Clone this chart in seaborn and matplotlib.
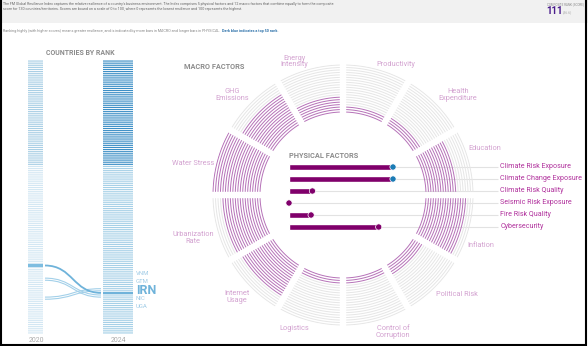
import numpy as np
import pandas as pd
import matplotlib.pyplot as plt
import seaborn as sns
from matplotlib.path import Path
from matplotlib.patches import PathPatch, Rectangle

W, H = 588, 346

# ---------------- data ----------------
macro_factors = ['Productivity', 'Health\nExpenditure', 'Education', 'Inflation', 'Political Risk',
                 'Control of\nCorruption', 'Logistics', 'Internet\nUsage', 'Urbanization\nRate',
                 'Water Stress', 'GHG\nEmissions', 'Energy\nIntensity']
macro_scores = [15, 20, 65, 85, 25, 15, 15, 75, 80, 100, 75, 35]

physical_factors = ['Climate Risk Exposure', 'Climate Change Exposure', 'Climate Risk Quality',
                    'Seismic Risk Exposure', 'Fire Risk Quality', 'Cybersecurity']
physical_scores = [80, 80, 18, 0, 17, 69]
physical_top50 = [True, True, False, False, False, False]

n_countries = 130
top_n = 50
years = ['2020', '2024']
hl_countries = ['VNM', 'GTM', 'IRN', 'NIC', 'UGA']
hl_rank_2020 = [113, 114, 98, 104, 105]
hl_rank_2024 = [109, 110, 111, 112, 113]
focus = 'IRN'
composite_rank = 111
composite_score = 36.6

# ---------------- style ----------------
PURPLE = '#80006b'
MACRO_ON = '#b672b8'
MACRO_OFF = '#e6e6e6'
MACRO_LBL = '#d3a2d0'
PHYS_LBL = '#b0309c'
DOT_BLUE = '#1b7bb5'
GREY_TXT = '#8c8c8c'

# label placement around the ring (angle nudge in degrees, radius in px)
label_nudge = [-7, -4, 3, -5, 4, 5, -5, -1, 1, 3, 3, 5]
label_rad = [141, 152, 149, 147, 151, 146, 142, 147, 156, 153, 149, 142]

sns.set_theme(style='white')
plt.rcParams['font.family'] = ['Roboto', 'DejaVu Sans']


def px_rect(x0, y0, x1, y1):
    return [x0 / W, 1 - y1 / H, (x1 - x0) / W, (y1 - y0) / H]


fig = plt.figure(figsize=(W / 100, H / 100), dpi=100)
fig.patch.set_facecolor('white')

# background axes in pixel coordinates for text and frame
ax_bg = fig.add_axes([0, 0, 1, 1])
ax_bg.set_xlim(0, W)
ax_bg.set_ylim(H, 0)
ax_bg.axis('off')

ax_bg.add_patch(Rectangle((0, 0), W, 23, color='#f1f1f1', lw=0))
ax_bg.text(3, 4.5, "The FM Global Resilience Index captures the relative resilience of a country's business "
           "environment. The Index comprises 5 physical factors and 12 macro factors that combine equally to form the composite",
           fontsize=2.65, color='#666666', va='center')
ax_bg.text(3, 9, "score for 130 countries/territories. Scores are bound on a scale of 0 to 100, where 0 represents "
           "the lowest resilience and 100 represents the highest.",
           fontsize=2.65, color='#666666', va='center')
ax_bg.text(547, 4, 'COMPOSITE RANK (SCORE)', fontsize=2.2, color='#888888', va='center')
ax_bg.text(546, 11.5, str(composite_rank), fontsize=7, fontweight='bold', color='#4a1d8c', va='center')
ax_bg.text(563, 12.5, f'({composite_score})', fontsize=2.5, color='#aaaaaa', va='center')

ax_bg.text(3, 31, 'Ranking highly (with higher scores) means greater resilience, and is indicated by more bars '
           'in MACRO and longer bars in PHYSICAL.', fontsize=2.66, color='#888888', va='center')
ax_bg.text(222, 31, 'Dark blue indicates a top 50 rank.', fontsize=2.7, color='#2a6fa8',
           fontweight='bold', va='center')

ax_bg.text(80, 53, 'COUNTRIES BY RANK', fontsize=5, fontweight='bold', color=GREY_TXT, ha='center', va='center')
ax_bg.text(184, 67, 'MACRO FACTORS', fontsize=5.3, fontweight='bold', color=GREY_TXT, va='center')
ax_bg.text(289, 156, 'PHYSICAL FACTORS', fontsize=5.3, fontweight='bold', color=GREY_TXT, va='center')
ax_bg.text(36, 340, years[0], fontsize=5, color='#aaaaaa', ha='center', va='center')
ax_bg.text(118, 340, years[1], fontsize=5, color='#aaaaaa', ha='center', va='center')

# outer frame
ax_bg.add_patch(Rectangle((0.7, -5), 585, 349.8, fill=False, ec='black', lw=1.5, clip_on=False))

# ---------------- countries by rank ----------------
ax_r = fig.add_axes(px_rect(20, 60, 170, 334))
ax_r.set_xlim(20, 170)
ax_r.set_ylim(n_countries + 0.5, 0.5)
ax_r.axis('off')

ranks = np.arange(1, n_countries + 1)
top = ranks <= top_n
ax_r.barh(ranks, 15, left=28, height=0.55, color=np.where(top, '#a9cfe5', '#d3e7f3'),
          lw=0, snap=False)
ax_r.barh(ranks, 30, left=103, height=0.55, color=np.where(top, '#3d8fc6', '#a6d0e7'),
          lw=0, snap=False)

for i, c in enumerate(hl_countries):
    r0, r1 = hl_rank_2020[i], hl_rank_2024[i]
    is_focus = c == focus
    col = '#6fb3da' if is_focus else '#a3d0e9'
    if is_focus:
        ax_r.barh(r0, 15, left=28, height=1.3, color='#7dbde0', lw=0)
        ax_r.barh(r1, 30, left=103, height=1.3, color='#6fb3da', lw=0)
    path = Path([(45, r0), (73, r0), (73, r1), (101, r1)],
                [Path.MOVETO, Path.CURVE4, Path.CURVE4, Path.CURVE4])
    ax_r.add_patch(PathPatch(path, fill=False, ec=col, lw=1.3 if is_focus else 0.8))

label_offsets = np.array([-8.2, -4.4, 0, 3.9, 7.7]) - 1.2
focus_rank = hl_rank_2024[hl_countries.index(focus)]
for i, c in enumerate(hl_countries):
    if c == focus:
        ax_r.text(136, focus_rank + label_offsets[i], c, fontsize=9, fontweight='bold',
                  color='#6fb3da', va='center')
    else:
        ax_r.text(136, focus_rank + label_offsets[i], c, fontsize=4.3, color='#9fcbe6', va='center')

# ---------------- physical factors ----------------
ax_f = fig.add_axes(px_rect(289, 161, 588, 233))
ax_f.set_zorder(1)
phys = pd.DataFrame({'factor': physical_factors, 'score': physical_scores})
ax_f.hlines(np.arange(len(physical_factors)), 0, 161, color='#e2e2e2', lw=0.8, zorder=0)
sns.barplot(data=phys, x='score', y='factor', color=PURPLE, saturation=1, width=0.58, ax=ax_f, zorder=2)
dot_cols = [DOT_BLUE if t else PURPLE for t in physical_top50]
ax_f.scatter(physical_scores, np.arange(len(physical_factors)), s=20, c=dot_cols,
             edgecolors='white', linewidths=0.5, zorder=3, clip_on=False)
for i, f in enumerate(physical_factors):
    ax_f.text(162.5, i, f, fontsize=5.1, color=PHYS_LBL, va='center')
ax_f.set_xlim(0, 299 / 1.3)
ax_f.set_ylim(len(physical_factors) - 0.5, -0.5)
ax_f.axis('off')

# ---------------- macro factors ring ----------------
ax_p = fig.add_axes(px_rect(212, 64, 474, 326), projection='polar')
ax_p.set_zorder(2)
ax_p.patch.set_alpha(0)
ax_p.set_ylim(0, 131)
ax_p.axis('off')

n_rings = 20
radii = np.linspace(83, 130, n_rings)
for k, (name, score) in enumerate(zip(macro_factors, macro_scores)):
    centre = 75 - 30 * k
    filled = int(round(score / 100 * n_rings))
    for j, r in enumerate(radii):
        half = 15 - np.degrees(3.2 / r)
        th = np.radians(np.linspace(centre - half, centre + half, 40))
        ax_p.plot(th, np.full_like(th, r), color=MACRO_ON if j < filled else MACRO_OFF,
                  lw=0.7, solid_capstyle='butt')
    ax_p.text(np.radians(centre + label_nudge[k]), label_rad[k], name, fontsize=5.3,
              color=MACRO_LBL, ha='center', va='center', linespacing=0.95)

fig.savefig('out.png', dpi=100, facecolor='white')
